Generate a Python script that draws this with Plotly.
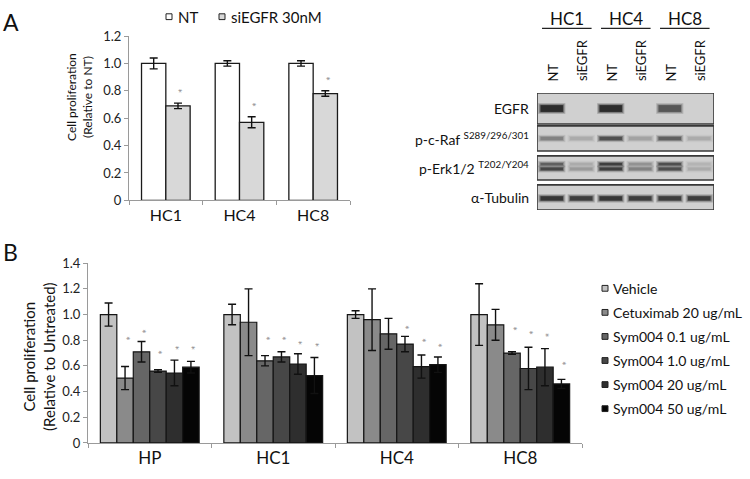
import plotly.graph_objects as go

W, H = 750, 479
FONT = "Lato"


def px(x):
    return x / W


def py(y):
    return 1 - y / H


# ---------------- Panel A data ----------------
a_cells = ["HC1", "HC4", "HC8"]
a_nt = [1.0, 1.0, 1.0]
a_nt_err = [0.04, 0.02, 0.02]
a_si = [0.69, 0.57, 0.78]
a_si_err = [0.02, 0.04, 0.02]
a_star_y = [0.80, 0.70, 0.89]
a_ticks = [0, 0.2, 0.4, 0.6, 0.8, 1.0, 1.2]
a_tick_text = ["0", "0.2", "0.4", "0.6", "0.8", "1.0", "1.2"]
a_legend = ["NT", "siEGFR 30nM"]

# ---------------- Panel B data ----------------
b_cells = ["HP", "HC1", "HC4", "HC8"]
b_series = ["Vehicle", "Cetuximab 20 ug/mL", "Sym004 0.1 ug/mL",
            "Sym004 1.0 ug/mL", "Sym004 20 ug/mL", "Sym004 50 ug/mL"]
b_vehicle = [1.0, 1.0, 1.0, 1.0]
b_vehicle_err = [0.09, 0.08, 0.03, 0.24]
b_cetux = [0.505, 0.94, 0.96, 0.92]
b_cetux_err = [0.09, 0.26, 0.24, 0.12]
b_sym01 = [0.71, 0.64, 0.85, 0.70]
b_sym01_err = [0.08, 0.04, 0.12, 0.01]
b_sym10 = [0.56, 0.67, 0.77, 0.58]
b_sym10_err = [0.01, 0.04, 0.06, 0.165]
b_sym20 = [0.545, 0.615, 0.595, 0.59]
b_sym20_err = [0.10, 0.08, 0.09, 0.145]
b_sym50 = [0.59, 0.525, 0.61, 0.46]
b_sym50_err = [0.045, 0.14, 0.06, 0.035]
b_star_vehicle = [None, None, None, None]
b_star_cetux = [0.815, None, None, None]
b_star_sym01 = [0.87, 0.815, None, 0.89]
b_star_sym10 = [0.705, 0.815, 0.90, 0.86]
b_star_sym20 = [0.74, 0.78, 0.80, 0.84]
b_star_sym50 = [0.74, 0.765, 0.76, 0.62]
b_ticks = [0, 0.2, 0.4, 0.6, 0.8, 1.0, 1.2, 1.4]
b_tick_text = ["0", "0.2", "0.4", "0.6", "0.8", "1.0", "1.2", "1.4"]

# ---------------- Western blot ----------------
blot_lines = ["HC1", "HC4", "HC8"]
blot_lanes = ["NT", "siEGFR", "NT", "siEGFR", "NT", "siEGFR"]
blot_rows = ["EGFR", "p-c-Raf <sup>S289/296/301</sup>",
             "p-Erk1/2 <sup>T202/Y204</sup>", "α-Tubulin"]
egfr_band = [0.95, 0.0, 0.95, 0.0, 0.7, 0.0]
raf_band = [0.45, 0.2, 0.75, 0.25, 0.65, 0.2]
erk_upper_band = [0.65, 0.2, 0.85, 0.35, 0.75, 0.15]
erk_lower_band = [0.8, 0.3, 0.85, 0.45, 0.75, 0.2]
tubulin_band = [0.9, 0.85, 0.9, 0.85, 0.85, 0.85]

fig = go.Figure()

# ---- Panel A bars ----
bar_line = dict(color="#1a1a1a", width=1.3)
err_style = dict(type="data", color="#111111", thickness=1.4, width=4)
star_font = dict(size=11, color="#8a8a8a", family=FONT)
fig.add_trace(go.Bar(
    x=a_cells, y=a_nt, name=a_legend[0], offset=-0.33, width=0.33,
    marker=dict(color="white", line=bar_line),
    error_y=dict(array=a_nt_err, **err_style), xaxis="x", yaxis="y"))
fig.add_trace(go.Bar(
    x=a_cells, y=a_si, name=a_legend[1], offset=0.0, width=0.33,
    marker=dict(color="#d8d8d8", line=bar_line),
    error_y=dict(array=a_si_err, **err_style), xaxis="x", yaxis="y"))
fig.add_trace(go.Bar(
    x=a_cells, base=[s - 0.03 for s in a_star_y], y=[0.06] * len(a_star_y),
    offset=0.0, width=0.33, text=["*"] * len(a_star_y), textposition="inside",
    insidetextanchor="middle", constraintext="none", textfont=star_font,
    marker=dict(color="rgba(0,0,0,0)", line=dict(width=0)),
    hoverinfo="skip", xaxis="x", yaxis="y"))

# ---- Panel B bars ----
b_values = [b_vehicle, b_cetux, b_sym01, b_sym10, b_sym20, b_sym50]
b_errors = [b_vehicle_err, b_cetux_err, b_sym01_err, b_sym10_err, b_sym20_err, b_sym50_err]
b_stars = [b_star_vehicle, b_star_cetux, b_star_sym01, b_star_sym10, b_star_sym20, b_star_sym50]
b_colors = ["#c2c2c2", "#8a8a8a", "#666666", "#474747", "#2e2e2e", "#050505"]
for name, vals, errs, col, stars in zip(b_series, b_values, b_errors, b_colors, b_stars):
    fig.add_trace(go.Bar(
        x=b_cells, y=vals, name=name, offsetgroup=name,
        marker=dict(color=col, line=dict(color="#151515", width=1.2)),
        error_y=dict(array=errs, **err_style), xaxis="x2", yaxis="y2"))
    sx = [c for c, s in zip(b_cells, stars) if s is not None]
    sy = [s for s in stars if s is not None]
    if sx:
        fig.add_trace(go.Bar(
            x=sx, offsetgroup=name, base=[s - 0.03 for s in sy], y=[0.06] * len(sy),
            text=["*"] * len(sy), textposition="inside", insidetextanchor="middle",
            constraintext="none", textfont=star_font,
            marker=dict(color="rgba(0,0,0,0)", line=dict(width=0)),
            hoverinfo="skip", xaxis="x2", yaxis="y2"))

# invisible trace to establish blot axes
fig.add_trace(go.Scatter(x=[0, 6], y=[209, 88], mode="markers",
                         marker=dict(opacity=0), hoverinfo="skip",
                         xaxis="x3", yaxis="y3"))

axis_common = dict(showgrid=False, zeroline=False, showline=True,
                   linecolor="#9a9a9a", linewidth=1, ticks="outside",
                   tickcolor="#9a9a9a", ticklen=4, fixedrange=True)

shapes = []
annotations = []

# ---- Blot drawing ----
row_boxes = [(88, 120), (122, 148), (153, 178), (183, 209)]
for (top, bot) in row_boxes:
    shapes.append(dict(type="rect", xref="x3", yref="y3", x0=0, x1=6, y0=top, y1=bot,
                       fillcolor="#d0d0d0", line=dict(color="#383838", width=1.6), layer="below"))

band_specs = [(egfr_band, 104, 7), (raf_band, 135, 3.5), (erk_upper_band, 161.5, 2.5),
              (erk_lower_band, 166.5, 3), (tubulin_band, 197, 4.5)]
for vals, cy, hgt in band_specs:
    for i, v in enumerate(vals):
        if v <= 0:
            continue
        g = int(205 - v * 175)
        col = f"rgb({g},{g},{g})"
        shapes.append(dict(type="rect", xref="x3", yref="y3", x0=i + 0.04, x1=i + 0.96,
                           y0=cy - hgt / 2 - 2, y1=cy + hgt / 2 + 2,
                           fillcolor=col, opacity=0.25, line=dict(width=0)))
        shapes.append(dict(type="rect", xref="x3", yref="y3", x0=i + 0.08, x1=i + 0.92,
                           y0=cy - hgt / 2 - 0.8, y1=cy + hgt / 2 + 0.8,
                           fillcolor=col, opacity=0.45, line=dict(width=0)))
        shapes.append(dict(type="rect", xref="x3", yref="y3", x0=i + 0.12, x1=i + 0.88,
                           y0=cy - hgt / 2, y1=cy + hgt / 2,
                           fillcolor=col, opacity=0.9, line=dict(width=0)))

row_centers = [(t + b) / 2 for t, b in row_boxes]
for label, yc in zip(blot_rows, row_centers):
    annotations.append(dict(text=label, xref="paper", yref="y3", x=px(531), y=yc,
                            xanchor="right", yanchor="middle", showarrow=False,
                            font=dict(size=14, color="#111", family=FONT)))

for i, lane in enumerate(blot_lanes):
    annotations.append(dict(text=lane, xref="x3", yref="paper", x=i + 0.55, y=py(78),
                            xanchor="center", yanchor="bottom", textangle=-90,
                            showarrow=False, font=dict(size=13, color="#111", family=FONT)))

for k, line_name in enumerate(blot_lines):
    annotations.append(dict(text=line_name, xref="x3", yref="paper", x=2 * k + 1.0, y=py(11),
                            xanchor="center", yanchor="middle", showarrow=False,
                            font=dict(size=17, color="#111", family=FONT)))
    shapes.append(dict(type="line", xref="x3", yref="paper", x0=2 * k + 0.17, x1=2 * k + 1.85,
                       y0=py(21), y1=py(21), line=dict(color="#222", width=1.3)))

# ---- Panel A legend ----
a_leg_colors = ["white", "#d8d8d8"]
a_leg_x = [166, 219]
for name, col, x0 in zip(a_legend, a_leg_colors, a_leg_x):
    shapes.append(dict(type="rect", xref="paper", yref="paper", x0=px(x0), x1=px(x0 + 6),
                       y0=py(12), y1=py(6), fillcolor=col, line=dict(color="#222", width=1)))
    annotations.append(dict(text=name, xref="paper", yref="paper", x=px(x0 + 10), y=py(9),
                            xanchor="left", yanchor="middle", showarrow=False,
                            font=dict(size=15, color="#111", family=FONT)))

# ---- Panel B legend ----
for i, (name, col) in enumerate(zip(b_series, b_colors)):
    yc = 290 + 24.9 * i
    shapes.append(dict(type="rect", xref="paper", yref="paper", x0=px(602), x1=px(608),
                       y0=py(yc + 3), y1=py(yc - 3), fillcolor=col,
                       line=dict(color="#222", width=1)))
    annotations.append(dict(text=name, xref="paper", yref="paper", x=px(611), y=py(yc),
                            xanchor="left", yanchor="middle", showarrow=False,
                            font=dict(size=14, color="#111", family=FONT)))

# ---- Panel letters and axis titles ----
annotations.append(dict(text="A", xref="paper", yref="paper", x=px(1), y=py(14),
                        xanchor="left", yanchor="middle", showarrow=False,
                        font=dict(size=23, color="#111", family=FONT)))
annotations.append(dict(text="B", xref="paper", yref="paper", x=px(1), y=py(252),
                        xanchor="left", yanchor="middle", showarrow=False,
                        font=dict(size=23, color="#111", family=FONT)))
annotations.append(dict(text="Cell proliferation<br>(Relative to NT)", xref="paper", yref="paper",
                        x=px(80), y=py(92), xanchor="center", yanchor="middle", textangle=-90,
                        showarrow=False, font=dict(size=12, color="#111", family=FONT)))
annotations.append(dict(text="Cell proliferation<br>(Relative to Untreated)", xref="paper",
                        yref="paper", x=px(39), y=py(361), xanchor="center", yanchor="middle",
                        textangle=-90, showarrow=False,
                        font=dict(size=15, color="#111", family=FONT)))

fig.update_layout(
    width=W, height=H, margin=dict(l=0, r=0, t=0, b=0),
    paper_bgcolor="white", plot_bgcolor="white",
    barmode="group", bargap=0.2, bargroupgap=0,
    showlegend=False,
    font=dict(family=FONT, color="#111"),
    xaxis=dict(domain=[px(129), px(350)], anchor="y", type="category",
               tickson="boundaries", tickfont=dict(size=16, color="#111"), **axis_common),
    yaxis=dict(domain=[py(199), py(29)], anchor="x", range=[0, 1.2],
               tickvals=a_ticks, ticktext=a_tick_text,
               tickfont=dict(size=13, color="#222"), **axis_common),
    xaxis2=dict(domain=[px(88), px(582)], anchor="y2", type="category",
                tickson="boundaries",
                tickfont=dict(size=17, color="#111"), **axis_common),
    yaxis2=dict(domain=[py(450), py(264)], anchor="x2", range=[0, 1.4],
                tickvals=b_ticks, ticktext=b_tick_text,
                tickfont=dict(size=13, color="#222"), **axis_common),
    xaxis3=dict(domain=[px(537), px(714)], anchor="y3", range=[0, 6], visible=False,
                fixedrange=True),
    yaxis3=dict(domain=[py(209), py(88)], anchor="x3", range=[209, 88], visible=False,
                fixedrange=True),
    shapes=shapes, annotations=annotations,
)

fig.write_html("out.html", config={"displayModeBar": False},
               post_script="document.body.style.margin='0';document.body.style.overflow='hidden';")
